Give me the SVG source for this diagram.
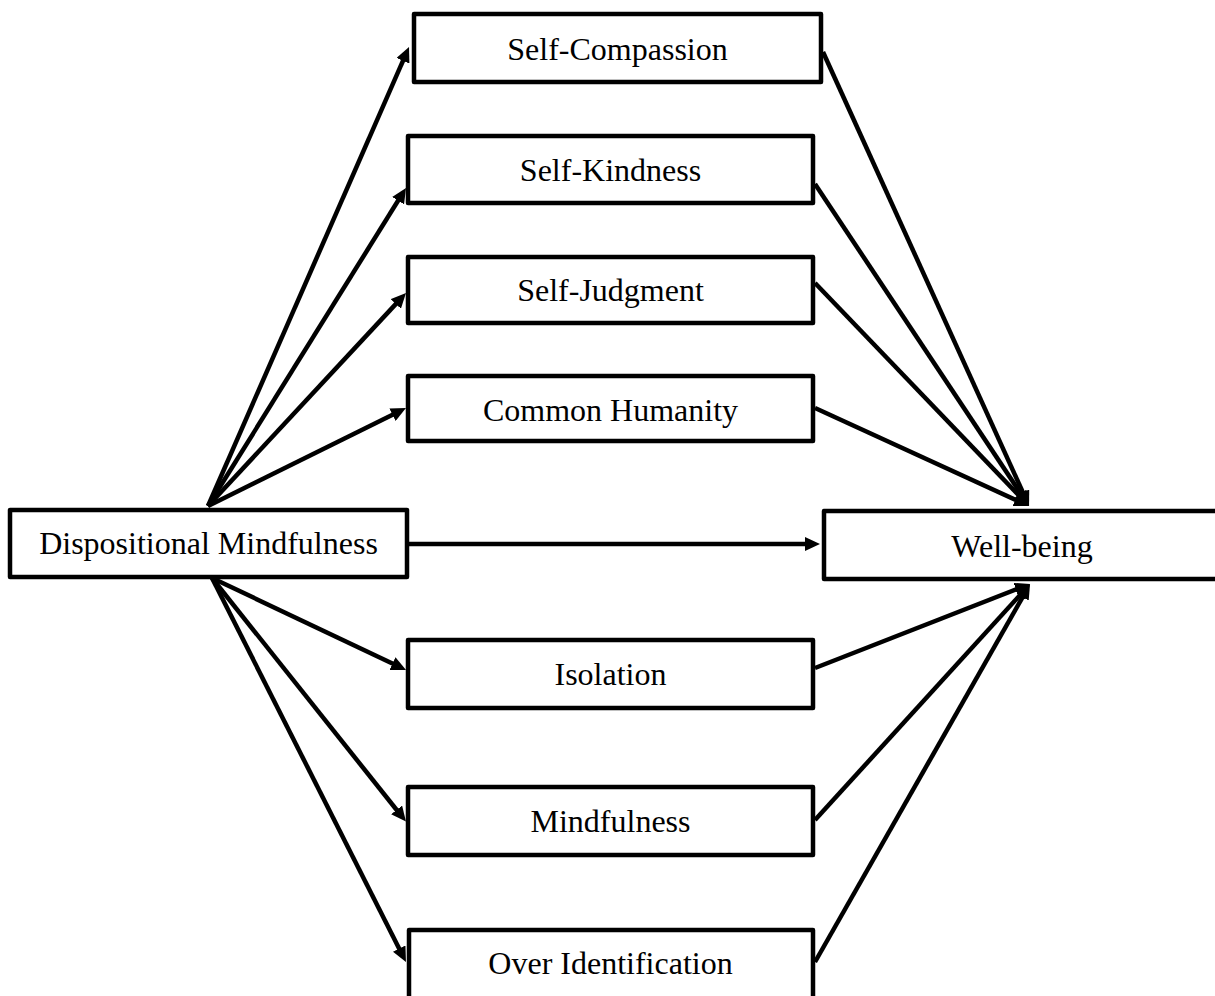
<svg xmlns="http://www.w3.org/2000/svg" width="1215" height="996" viewBox="0 0 1215 996">
  <style>
    .box { fill: #ffffff; stroke: #000000; stroke-width: 4.5; stroke-linejoin: round; }
    .label { font-family: "Liberation Serif", "Times New Roman", serif; font-size: 32px; fill: #000000; text-anchor: middle; }
    .edge { stroke: #000000; stroke-width: 4.5; fill: none; marker-end: url(#arrow); }
  </style>
  <defs>
    <marker id="arrow" markerUnits="userSpaceOnUse" markerWidth="15" markerHeight="14" refX="4" refY="7" orient="auto">
      <path d="M0,0 L15,7 L0,14 Z" fill="#000000"/>
    </marker>
  </defs>
  <rect width="1215" height="996" fill="#ffffff"/>

  <g id="connectors">
    <!-- Dispositional Mindfulness to upper mediators -->
    <line class="edge" x1="208" y1="506" x2="404.6" y2="57.1"/>
    <line class="edge" x1="208" y1="506" x2="400.2" y2="197.3"/>
    <line class="edge" x1="208" y1="506" x2="398.5" y2="301.1"/>
    <line class="edge" x1="208" y1="506" x2="396.1" y2="412.9"/>
    <!-- Dispositional Mindfulness to lower mediators -->
    <line class="edge" x1="212" y1="578" x2="396.1" y2="665.3"/>
    <line class="edge" x1="212" y1="578" x2="399.1" y2="813.0"/>
    <line class="edge" x1="212" y1="578" x2="401.0" y2="952.2"/>
    <!-- direct path -->
    <line class="edge" x1="409" y1="544" x2="809" y2="544"/>
    <!-- upper mediators to Well-being -->
    <line class="edge" x1="823" y1="52" x2="1024.5" y2="496.0"/>
    <line class="edge" x1="815" y1="184" x2="1022.9" y2="496.8"/>
    <line class="edge" x1="815" y1="283" x2="1021.4" y2="498.0"/>
    <line class="edge" x1="815" y1="408" x2="1019.0" y2="501.4"/>
    <!-- lower mediators to Well-being -->
    <line class="edge" x1="815" y1="668" x2="1019.8" y2="588.0"/>
    <line class="edge" x1="815" y1="820" x2="1022.6" y2="592.2"/>
    <line class="edge" x1="815" y1="962" x2="1024.6" y2="593.6"/>
  </g>

  <g id="node-self-compassion">
    <rect class="box" x="414" y="14" width="407" height="68"/>
    <text class="label" x="617.5" y="60">Self-Compassion</text>
  </g>
  <g id="node-self-kindness">
    <rect class="box" x="408" y="136" width="405" height="67"/>
    <text class="label" x="610.5" y="181">Self-Kindness</text>
  </g>
  <g id="node-self-judgment">
    <rect class="box" x="408" y="257" width="405" height="66"/>
    <text class="label" x="610.5" y="301">Self-Judgment</text>
  </g>
  <g id="node-common-humanity">
    <rect class="box" x="408" y="376" width="405" height="65"/>
    <text class="label" x="610.5" y="421">Common Humanity</text>
  </g>
  <g id="node-dispositional-mindfulness">
    <rect class="box" x="10" y="510" width="397" height="67"/>
    <text class="label" x="208.5" y="554">Dispositional Mindfulness</text>
  </g>
  <g id="node-well-being">
    <rect class="box" x="824" y="511" width="400" height="68"/>
    <text class="label" x="1022" y="557">Well-being</text>
  </g>
  <g id="node-isolation">
    <rect class="box" x="408" y="640" width="405" height="68"/>
    <text class="label" x="610.5" y="685">Isolation</text>
  </g>
  <g id="node-mindfulness">
    <rect class="box" x="408" y="787" width="405" height="68"/>
    <text class="label" x="610.5" y="832">Mindfulness</text>
  </g>
  <g id="node-over-identification">
    <rect class="box" x="409" y="930" width="404" height="70"/>
    <text class="label" x="610.5" y="974">Over Identification</text>
  </g>
</svg>
